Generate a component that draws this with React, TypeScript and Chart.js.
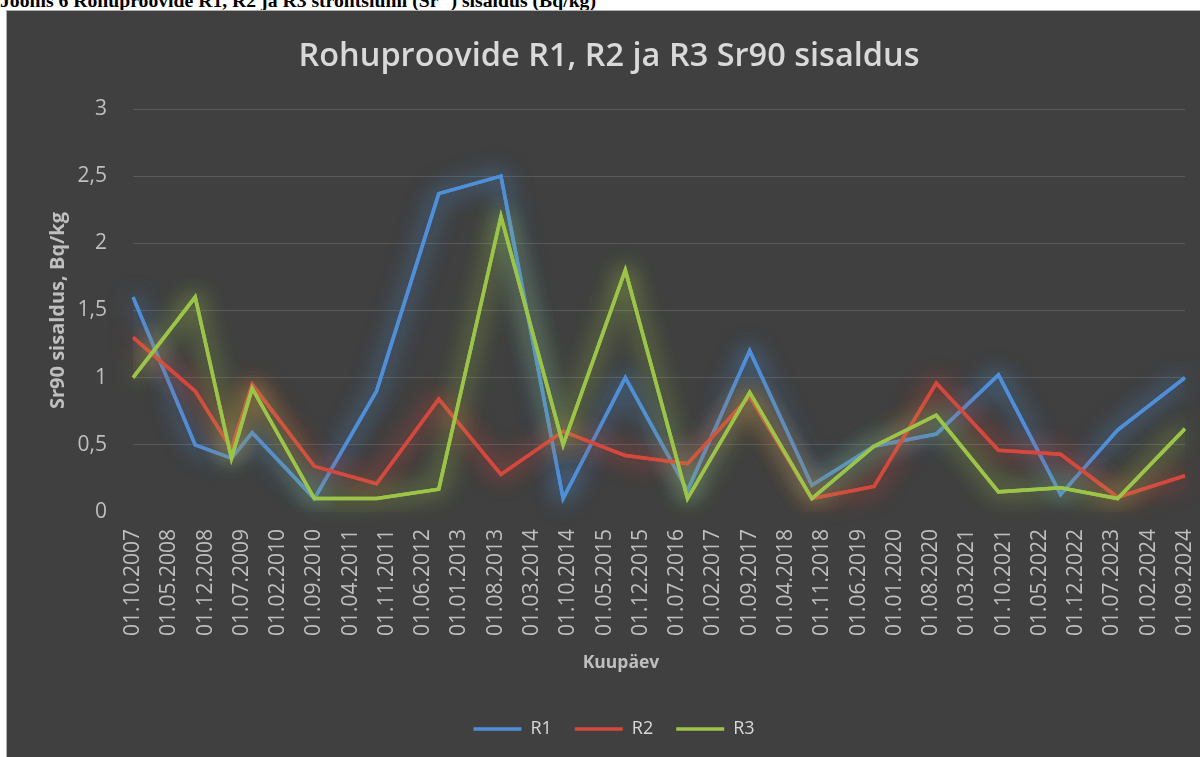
import React, { useEffect, useRef } from "react";
import { Chart, registerables } from "chart.js";

Chart.register(...registerables);

const chartTitle = "Rohuproovide R1, R2 ja R3 Sr90 sisaldus";
const yAxisTitle = "Sr90 sisaldus, Bq/kg";
const xAxisTitle = "Kuupäev";

const sampleDates = [
  "01.10.2007", "01.10.2008", "01.05.2009", "01.09.2009", "01.09.2010",
  "01.09.2011", "01.09.2012", "01.09.2013", "01.09.2014", "01.09.2015",
  "01.09.2016", "01.09.2017", "01.09.2018", "01.09.2019", "01.09.2020",
  "01.09.2021", "01.09.2022", "01.08.2023", "01.09.2024",
];

const r1Values = [1.6, 0.5, 0.4, 0.59, 0.1, 0.9, 2.37, 2.5, 0.1, 1.0, 0.16, 1.2, 0.2, 0.49, 0.58, 1.02, 0.13, 0.61, 1.0];
const r2Values = [1.3, 0.9, 0.47, 0.95, 0.34, 0.21, 0.84, 0.28, 0.6, 0.42, 0.36, 0.86, 0.1, 0.19, 0.96, 0.46, 0.43, 0.11, 0.27];
const r3Values = [1.0, 1.6, 0.4, 0.92, 0.1, 0.1, 0.17, 2.2, 0.5, 1.8, 0.1, 0.89, 0.1, 0.49, 0.72, 0.15, 0.18, 0.1, 0.62];

const xTickLabels = [
  "01.10.2007", "01.05.2008", "01.12.2008", "01.07.2009", "01.02.2010",
  "01.09.2010", "01.04.2011", "01.11.2011", "01.06.2012", "01.01.2013",
  "01.08.2013", "01.03.2014", "01.10.2014", "01.05.2015", "01.12.2015",
  "01.07.2016", "01.02.2017", "01.09.2017", "01.04.2018", "01.11.2018",
  "01.06.2019", "01.01.2020", "01.08.2020", "01.03.2021", "01.10.2021",
  "01.05.2022", "01.12.2022", "01.07.2023", "01.02.2024", "01.09.2024",
];

const yTicks = [0, 0.5, 1, 1.5, 2, 2.5, 3];

// month index relative to first sample
const toMonth = (s: string) => {
  const [d, m, y] = s.split(".").map(Number);
  return (y - 2007) * 12 + (m - 10) + (d - 1) / 31;
};

const series = [
  { label: "R1", values: r1Values, color: "#4f8fd8", glow: "rgba(79,143,216,0.8)" },
  { label: "R2", values: r2Values, color: "#d6473e", glow: "rgba(214,71,62,0.8)" },
  { label: "R3", values: r3Values, color: "#9cc449", glow: "rgba(156,196,73,0.8)" },
];

const FONT = "'Open Sans', 'Noto Sans', sans-serif";

const glowPlugin = {
  id: "glow",
  beforeDatasetDraw(chart: any, args: any) {
    const ctx = chart.ctx;
    ctx.save();
    const ds = chart.data.datasets[args.index];
    ctx.shadowColor = ds.glowColor;
    ctx.shadowBlur = 24;
    // extra pass to strengthen the soft glow
    args.meta.controller.draw();
  },
  afterDatasetDraw(chart: any) {
    chart.ctx.restore();
  },
};

const shiftPlugin = {
  id: "shiftBoxes",
  beforeDraw(chart: any) {
    if (chart.legend && !chart.legend._shifted) {
      chart.legend.left += 18;
      chart.legend.right += 18;
      chart.legend._shifted = true;
    }
    if (chart.titleBlock && !chart.titleBlock._shifted) {
      chart.titleBlock.left += 13;
      chart.titleBlock.right += 13;
      chart.titleBlock._shifted = true;
    }
  },
  afterDraw(chart: any) {
    const ctx = chart.ctx;
    const x = chart.scales.x;
    ctx.save();
    ctx.fillStyle = "#bfbfbf";
    ctx.font = `bold 17.5px ${FONT}`;
    ctx.textAlign = "center";
    ctx.textBaseline = "middle";
    ctx.fillText(xAxisTitle, chart.width * (614 / 1193), x.bottom - 34);
    ctx.restore();
  },
};

export default function App() {
  const ref = useRef<HTMLCanvasElement>(null);
  useEffect(() => {
    document.body.style.margin = "0";
    document.documentElement.style.overflow = "hidden";
    document.body.style.overflow = "hidden";
    const tickMonths = xTickLabels.map(toMonth);
    const chart = new Chart(ref.current!, {
      type: "line",
      data: {
        datasets: series.map((s, i) => ({
          label: s.label,
          data: sampleDates.map((d, j) => ({ x: toMonth(d), y: s.values[j] })),
          borderColor: s.color,
          backgroundColor: s.color,
          borderWidth: 3.5,
          pointRadius: 0,
          tension: 0,
          order: 2 - i,
          glowColor: s.glow,
        })) as any,
      },
      options: {
        animation: false,
        responsive: false,
        devicePixelRatio: 1,
        layout: { padding: { left: 0, right: 15, top: 0, bottom: 9 } },
        plugins: {
          tooltip: { enabled: false },
          title: {
            display: true,
            text: chartTitle,
            color: "#d9d9d9",
            font: { family: FONT, size: 32.5, weight: 600 },
            padding: { top: 26, bottom: 33 },
          },
          legend: {
            position: "bottom",
            labels: {
              color: "#d9d9d9",
              font: { family: FONT, size: 18 },
              usePointStyle: true,
              pointStyle: "line",
              pointStyleWidth: 48,
              padding: 23,
              sort: (a: any, b: any) => a.datasetIndex - b.datasetIndex,
            },
          },
        },
        scales: {
          x: {
            type: "linear",
            min: tickMonths[0],
            max: tickMonths[tickMonths.length - 1],
            afterBuildTicks: (scale: any) => {
              scale.ticks = tickMonths.map((v) => ({ value: v }));
            },
            afterFit: (scale: any) => {
              scale.height = 185;
              scale.paddingLeft = 0;
              scale.paddingRight = 0;
            },
            grid: { display: false, drawTicks: false },
            border: { display: false },
            ticks: {
              autoSkip: false,
              maxRotation: 90,
              minRotation: 90,
              padding: 17,
              color: "#bfbfbf",
              font: { family: FONT, size: 21 },
              callback: (v: any) => {
                const i = tickMonths.findIndex((t) => Math.abs(t - v) < 1e-6);
                return i >= 0 ? xTickLabels[i] : "";
              },
            },
            title: { display: false },
          },
          y: {
            min: 0,
            max: 3,
            afterBuildTicks: (scale: any) => {
              scale.ticks = yTicks.map((v) => ({ value: v }));
            },
            afterFit: (scale: any) => {
              scale.width = 126;
            },
            grid: {
              color: (c: any) => (c.tick && c.tick.value === 0 ? "rgba(0,0,0,0)" : "#5a5a5a"),
              lineWidth: 1,
              drawTicks: false,
            },
            border: { display: false },
            ticks: {
              padding: 26,
              color: "#bfbfbf",
              font: { family: FONT, size: 21 },
              callback: (v: any) => String(v).replace(".", ","),
            },
            title: {
              display: true,
              text: yAxisTitle,
              color: "#bfbfbf",
              font: { family: FONT, size: 20, weight: "bold" },
              padding: { top: 39, bottom: 0 },
            },
          },
        },
      } as any,
      plugins: [glowPlugin, shiftPlugin],
    });
    return () => chart.destroy();
  }, []);

  return (
    <div style={{ position: "fixed", left: 0, top: 0, width: 1200, height: 757, overflow: "hidden", background: "#fff" }}>
      <div
        style={{
          position: "absolute",
          left: 0,
          top: -8,
          fontFamily: "'Liberation Serif', 'Times New Roman', serif",
          fontWeight: "bold",
          fontSize: 19.7,
          lineHeight: "16px",
          whiteSpace: "nowrap",
          color: "#000",
        }}
      >
        Joonis 6 Rohuproovide R1, R2 ja R3 strontsiumi (Sr<sup style={{ fontSize: 12, lineHeight: 0 }}>90</sup>) sisaldus (Bq/kg)
      </div>
      <div
        style={{
          position: "absolute",
          left: 6,
          top: 10,
          width: 1194,
          height: 747,
          boxSizing: "border-box",
          borderLeft: "1px solid #b0b0b0",
          borderTop: "1px solid #b0b0b0",
          background: "#404040",
        }}
      >
        <canvas ref={ref} width={1193} height={746} style={{ display: "block", width: 1193, height: 746 }} />
      </div>
    </div>
  );
}
